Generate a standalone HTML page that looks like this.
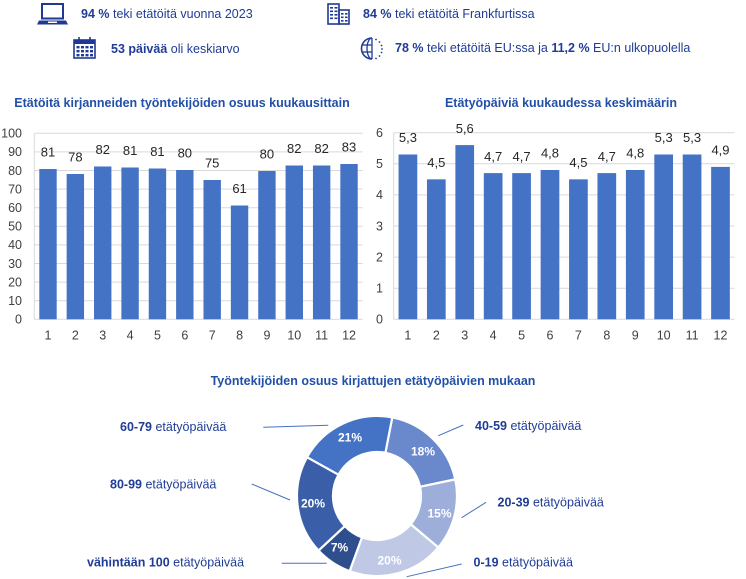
<!DOCTYPE html>
<html><head><meta charset="utf-8"><style>
html,body{margin:0;padding:0;background:#fff;width:746px;height:579px;overflow:hidden}
svg{display:block}
text{font-family:"Liberation Sans",Arial,sans-serif}
</style></head><body>
<svg width="746" height="579" viewBox="0 0 746 579" xmlns="http://www.w3.org/2000/svg">
<!-- ICONS -->
<g fill="none" stroke="#1F3A93" stroke-width="2">
  <!-- laptop -->
  <rect x="42" y="4" width="21" height="14.5"/>
  <path d="M39 20.5 L66 20.5 L68 24.5 L37 24.5 Z" fill="#1F3A93" stroke="none"/>
  <rect x="48" y="21.5" width="9" height="1.5" fill="#fff" stroke="none"/>
  <!-- calendar -->
  <rect x="74" y="40" width="21" height="18" stroke-width="1.6"/>
  <rect x="74" y="40" width="21" height="4" fill="#1F3A93" stroke="none"/>
  <line x1="79" y1="37" x2="79" y2="41.5" stroke-width="1.6"/>
  <line x1="90" y1="37" x2="90" y2="41.5" stroke-width="1.6"/>
  <!-- building -->
  <rect x="328" y="4" width="11" height="20" stroke-width="1.6"/>
  <rect x="339" y="10" width="10" height="14" stroke-width="1.6"/>
  <!-- globe -->
  <path d="M372 38 A10.5 10.5 0 0 0 372 59" stroke-width="1.6"/>
  <path d="M372 38 A5 10.5 0 0 0 372 59" stroke-width="1.3"/>
  <line x1="372" y1="38" x2="372" y2="59" stroke-width="1.3"/>
  <line x1="362" y1="45" x2="372" y2="45" stroke-width="1.3"/>
  <line x1="362" y1="52" x2="372" y2="52" stroke-width="1.3"/>
</g>
<g fill="#1F3A93">
  <!-- calendar cells -->
  <rect x="76.5" y="46" width="3" height="2.4"/><rect x="81" y="46" width="3" height="2.4"/><rect x="85.5" y="46" width="3" height="2.4"/><rect x="90" y="46" width="3" height="2.4"/>
  <rect x="76.5" y="50" width="3" height="2.4"/><rect x="81" y="50" width="3" height="2.4"/><rect x="85.5" y="50" width="3" height="2.4"/><rect x="90" y="50" width="3" height="2.4"/>
  <rect x="76.5" y="54" width="3" height="2.4"/><rect x="81" y="54" width="3" height="2.4"/><rect x="85.5" y="54" width="3" height="2.4"/><rect x="90" y="54" width="3" height="2.4"/>
  <!-- building windows -->
  <rect x="330" y="7" width="3" height="1.6"/><rect x="334.5" y="7" width="3" height="1.6"/>
  <rect x="330" y="10.5" width="3" height="1.6"/><rect x="334.5" y="10.5" width="3" height="1.6"/>
  <rect x="330" y="14" width="3" height="1.6"/><rect x="334.5" y="14" width="3" height="1.6"/>
  <rect x="330" y="17.5" width="3" height="1.6"/><rect x="334.5" y="17.5" width="3" height="1.6"/>
  <rect x="341" y="13" width="2.5" height="1.6"/><rect x="345" y="13" width="2.5" height="1.6"/>
  <rect x="341" y="16.5" width="2.5" height="1.6"/><rect x="345" y="16.5" width="2.5" height="1.6"/>
  <rect x="341" y="20" width="2.5" height="1.6"/><rect x="345" y="20" width="2.5" height="1.6"/>
  <!-- globe stars -->
  <circle cx="376" cy="39.5" r="0.9"/><circle cx="379.5" cy="42" r="0.9"/><circle cx="381.5" cy="45.5" r="0.9"/>
  <circle cx="382" cy="49" r="0.9"/><circle cx="381.5" cy="52.5" r="0.9"/><circle cx="379.5" cy="56" r="0.9"/><circle cx="376" cy="58.5" r="0.9"/>
</g>
<g font-size="12.5" fill="#1F3C96">
  <text x="81" y="18"><tspan font-weight="bold">94 %</tspan> teki etätöitä vuonna 2023</text>
  <text x="111" y="53"><tspan font-weight="bold">53 päivää</tspan> oli keskiarvo</text>
  <text x="363" y="18"><tspan font-weight="bold">84 %</tspan> teki etätöitä Frankfurtissa</text>
  <text x="395" y="52"><tspan font-weight="bold">78 %</tspan> teki etätöitä EU:ssa ja <tspan font-weight="bold">11,2 %</tspan> EU:n ulkopuolella</text>
</g>

<!-- CHART TITLES -->
<g font-size="12.5" font-weight="bold" fill="#2250A8" text-anchor="middle">
  <text x="182" y="107">Etätöitä kirjanneiden työntekijöiden osuus kuukausittain</text>
  <text x="561" y="107">Etätyöpäiviä kuukaudessa keskimäärin</text>
  <text x="373" y="385">Työntekijöiden osuus kirjattujen etätyöpäivien mukaan</text>
</g>

<!-- CHART 1 -->
<g stroke="#D9D9D9" stroke-width="1">
  <line x1="34.3" y1="300.7" x2="362.7" y2="300.7"/><line x1="34.3" y1="282.1" x2="362.7" y2="282.1"/>
  <line x1="34.3" y1="263.5" x2="362.7" y2="263.5"/><line x1="34.3" y1="244.9" x2="362.7" y2="244.9"/>
  <line x1="34.3" y1="226.3" x2="362.7" y2="226.3"/><line x1="34.3" y1="207.7" x2="362.7" y2="207.7"/>
  <line x1="34.3" y1="189.1" x2="362.7" y2="189.1"/><line x1="34.3" y1="170.5" x2="362.7" y2="170.5"/>
  <line x1="34.3" y1="151.9" x2="362.7" y2="151.9"/><line x1="34.3" y1="133.3" x2="362.7" y2="133.3"/>
  <line x1="34.3" y1="133.3" x2="34.3" y2="319.3"/>
  <line x1="34.3" y1="319.3" x2="362.7" y2="319.3"/>
</g>
<g fill="#4472C4">
  <rect x="39.3" y="169" width="17.4" height="150.3"/>
  <rect x="66.65" y="174" width="17.4" height="145.3"/>
  <rect x="94.02" y="166.5" width="17.4" height="152.8"/>
  <rect x="121.38" y="167.5" width="17.4" height="151.8"/>
  <rect x="148.75" y="168.5" width="17.4" height="150.8"/>
  <rect x="176.12" y="170" width="17.4" height="149.3"/>
  <rect x="203.49" y="180" width="17.4" height="139.3"/>
  <rect x="230.85" y="205.5" width="17.4" height="113.8"/>
  <rect x="258.22" y="171" width="17.4" height="148.3"/>
  <rect x="285.59" y="165.5" width="17.4" height="153.8"/>
  <rect x="312.95" y="165.5" width="17.4" height="153.8"/>
  <rect x="340.32" y="164" width="17.4" height="155.3"/>
</g>
<g font-size="13" fill="#262626" text-anchor="middle">
  <text x="47.98" y="156.5">81</text><text x="75.35" y="161.5">78</text><text x="102.72" y="154">82</text>
  <text x="130.08" y="155">81</text><text x="157.45" y="156">81</text><text x="184.82" y="157.5">80</text>
  <text x="212.19" y="167.5">75</text><text x="239.55" y="193">61</text><text x="266.92" y="158.5">80</text>
  <text x="294.29" y="153">82</text><text x="321.65" y="153">82</text><text x="349.02" y="151.5">83</text>
</g>
<g font-size="12.5" fill="#404040" text-anchor="end">
  <text x="22" y="323.6">0</text><text x="22" y="305">10</text><text x="22" y="286.4">20</text>
  <text x="22" y="267.8">30</text><text x="22" y="249.2">40</text><text x="22" y="230.6">50</text>
  <text x="22" y="212">60</text><text x="22" y="193.4">70</text><text x="22" y="174.8">80</text>
  <text x="22" y="156.2">90</text><text x="22" y="137.6">100</text>
</g>
<g font-size="12.5" fill="#404040" text-anchor="middle">
  <text x="47.98" y="339.5">1</text><text x="75.35" y="339.5">2</text><text x="102.72" y="339.5">3</text>
  <text x="130.08" y="339.5">4</text><text x="157.45" y="339.5">5</text><text x="184.82" y="339.5">6</text>
  <text x="212.19" y="339.5">7</text><text x="239.55" y="339.5">8</text><text x="266.92" y="339.5">9</text>
  <text x="294.29" y="339.5">10</text><text x="321.65" y="339.5">11</text><text x="349.02" y="339.5">12</text>
</g>

<!-- CHART 2 -->
<g stroke="#D9D9D9" stroke-width="1">
  <line x1="393.7" y1="288.2" x2="734.7" y2="288.2"/><line x1="393.7" y1="257.1" x2="734.7" y2="257.1"/>
  <line x1="393.7" y1="226" x2="734.7" y2="226"/><line x1="393.7" y1="194.9" x2="734.7" y2="194.9"/>
  <line x1="393.7" y1="163.8" x2="734.7" y2="163.8"/><line x1="393.7" y1="132.7" x2="734.7" y2="132.7"/>
  <line x1="393.7" y1="132.7" x2="393.7" y2="319.3"/>
  <line x1="393.7" y1="319.3" x2="734.7" y2="319.3"/>
</g>
<g fill="#4472C4">
  <rect x="398.56" y="154.5" width="18.7" height="164.8"/>
  <rect x="426.97" y="179.35" width="18.7" height="139.95"/>
  <rect x="455.39" y="145.1" width="18.7" height="174.2"/>
  <rect x="483.81" y="173.1" width="18.7" height="146.2"/>
  <rect x="512.22" y="173.1" width="18.7" height="146.2"/>
  <rect x="540.64" y="170" width="18.7" height="149.3"/>
  <rect x="569.06" y="179.35" width="18.7" height="139.95"/>
  <rect x="597.47" y="173.1" width="18.7" height="146.2"/>
  <rect x="625.89" y="170" width="18.7" height="149.3"/>
  <rect x="654.31" y="154.5" width="18.7" height="164.8"/>
  <rect x="682.72" y="154.5" width="18.7" height="164.8"/>
  <rect x="711.14" y="166.9" width="18.7" height="152.4"/>
</g>
<g font-size="13" fill="#262626" text-anchor="middle">
  <text x="407.91" y="142.2">5,3</text><text x="436.32" y="167">4,5</text><text x="464.74" y="132.8">5,6</text>
  <text x="493.16" y="160.8">4,7</text><text x="521.57" y="160.8">4,7</text><text x="549.99" y="157.7">4,8</text>
  <text x="578.41" y="167">4,5</text><text x="606.82" y="160.8">4,7</text><text x="635.24" y="157.7">4,8</text>
  <text x="663.66" y="142.2">5,3</text><text x="692.07" y="142.2">5,3</text><text x="720.49" y="154.6">4,9</text>
</g>
<g font-size="12.5" fill="#404040" text-anchor="end">
  <text x="383" y="323.6">0</text><text x="383" y="292.5">1</text><text x="383" y="261.4">2</text>
  <text x="383" y="230.3">3</text><text x="383" y="199.2">4</text><text x="383" y="168.1">5</text>
  <text x="383" y="137">6</text>
</g>
<g font-size="12.5" fill="#404040" text-anchor="middle">
  <text x="407.91" y="339.5">1</text><text x="436.32" y="339.5">2</text><text x="464.74" y="339.5">3</text>
  <text x="493.16" y="339.5">4</text><text x="521.57" y="339.5">5</text><text x="549.99" y="339.5">6</text>
  <text x="578.41" y="339.5">7</text><text x="606.82" y="339.5">8</text><text x="635.24" y="339.5">9</text>
  <text x="663.66" y="339.5">10</text><text x="692.07" y="339.5">11</text><text x="720.49" y="339.5">12</text>
</g>

<!-- DONUT -->
<g stroke="#fff" stroke-width="2.2" stroke-linejoin="round">
  <path fill="#6A88CC" d="M392.26 417.47 A80 80 0 0 1 455.25 479.37 L420.04 486.85 A44 44 0 0 0 385.40 452.81 Z"/>
  <path fill="#9EAEDA" d="M455.25 479.37 A80 80 0 0 1 438.28 547.42 L410.70 524.28 A44 44 0 0 0 420.04 486.85 Z"/>
  <path fill="#BFC9E6" d="M438.28 547.42 A80 80 0 0 1 349.64 571.18 L361.95 537.35 A44 44 0 0 0 410.70 524.28 Z"/>
  <path fill="#2F4E8E" d="M349.64 571.18 A80 80 0 0 1 318.49 550.56 L344.82 526.01 A44 44 0 0 0 361.95 537.35 Z"/>
  <path fill="#3A5EA8" d="M318.49 550.56 A80 80 0 0 1 307.03 457.22 L338.52 474.67 A44 44 0 0 0 344.82 526.01 Z"/>
  <path fill="#4472C4" d="M307.03 457.22 A80 80 0 0 1 392.26 417.47 L385.40 452.81 A44 44 0 0 0 338.52 474.67 Z"/>
</g>
<g font-size="12" font-weight="bold" fill="#fff" text-anchor="middle">
  <text x="350" y="441.3">21%</text>
  <text x="423" y="455.3">18%</text>
  <text x="439.5" y="517.5">15%</text>
  <text x="389.5" y="564.3">20%</text>
  <text x="339.5" y="551.5">7%</text>
  <text x="313" y="507.5">20%</text>
</g>
<g stroke="#4472C4" stroke-width="1">
  <line x1="263.3" y1="427.3" x2="328.3" y2="425.3"/>
  <line x1="251.7" y1="484" x2="290" y2="500"/>
  <line x1="281.7" y1="563.3" x2="326.7" y2="563.3"/>
  <line x1="438.3" y1="435.7" x2="463.3" y2="425"/>
  <line x1="461.7" y1="517.7" x2="486" y2="502.3"/>
  <line x1="406.7" y1="576.7" x2="461.7" y2="564"/>
</g>
<g font-size="12.5" fill="#1F3C96">
  <text x="120" y="431"><tspan font-weight="bold">60-79</tspan> etätyöpäivää</text>
  <text x="110" y="488.5"><tspan font-weight="bold">80-99</tspan> etätyöpäivää</text>
  <text x="87" y="566.5"><tspan font-weight="bold">vähintään 100</tspan> etätyöpäivää</text>
  <text x="475" y="430"><tspan font-weight="bold">40-59</tspan> etätyöpäivää</text>
  <text x="497.5" y="506.5"><tspan font-weight="bold">20-39</tspan> etätyöpäivää</text>
  <text x="473.5" y="566.5"><tspan font-weight="bold">0-19</tspan> etätyöpäivää</text>
</g>
</svg>
</body></html>
